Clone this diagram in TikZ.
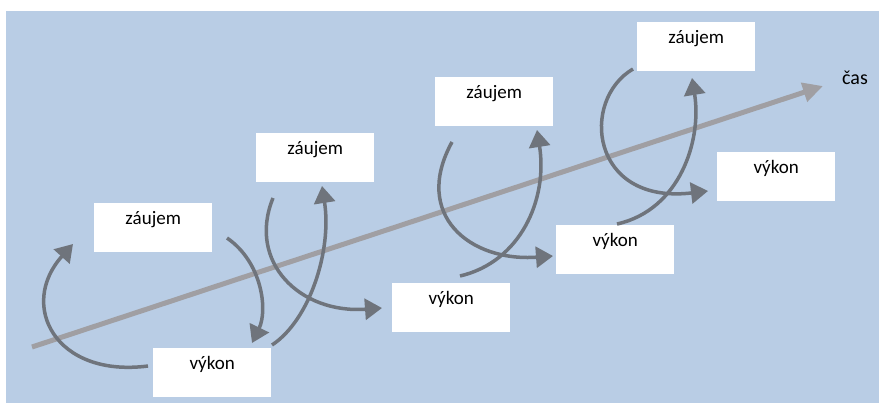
\documentclass[tikz,border=0pt]{standalone}
\usepackage{fontspec}
\setmainfont{Carlito}
\usetikzlibrary{arrows.meta}
\definecolor{paneblue}{RGB}{185,205,229}
\definecolor{loopgray}{RGB}{111,116,124}
\definecolor{axisgray}{RGB}{160,159,163}
\tikzset{
  stagebox/.style={fill=white, draw=none, anchor=north west, inner xsep=0pt, inner ysep=0pt,
    minimum width=118pt, minimum height=49pt, text height=21pt, text depth=28pt,
    font=\fontsize{19}{23}\selectfont},
  loop/.style={draw=loopgray, line width=3.5pt, -{Triangle[length=17pt,width=21pt]}},
  timeaxis/.style={draw=axisgray, line width=5pt, -{Triangle[length=20pt,width=19pt]}},
}
\begin{document}
\begin{tikzpicture}[x=1pt,y=-1pt]
  \useasboundingbox (0,0) rectangle (879,407);
  \fill[white] (0,0) rectangle (879,407);
  \fill[paneblue] (6,11) rectangle (879,403);

  % time axis
  \coordinate (t0) at (32,347);
  \coordinate (t1) at (823,86);
  \draw[timeaxis] (t0) -- (t1);
  \node[font=\fontsize{20}{24}\selectfont] (cas) at (855,78) {čas};

  % stage boxes
  \node[stagebox] (z1) at (94,203) {záujem};
  \node[stagebox] (v1) at (153,348) {výkon};
  \node[stagebox] (z2) at (256,133) {záujem};
  \node[stagebox] (v2) at (392,283) {výkon};
  \node[stagebox] (z3) at (435,77) {záujem};
  \node[stagebox] (v3) at (556,225) {výkon};
  \node[stagebox] (z4) at (637,22) {záujem};
  \node[stagebox] (v4) at (717,152) {výkon};

  % ends of the cycle arrows
  \coordinate (a1s) at (148,366);  \coordinate (a1e) at (73,244);
  \coordinate (a2s) at (227,238);  \coordinate (a2e) at (252,343);
  \coordinate (a3s) at (272,345);  \coordinate (a3e) at (322,186);
  \coordinate (a4s) at (273,198);  \coordinate (a4e) at (382,308);
  \coordinate (a5s) at (452,142);  \coordinate (a5e) at (553,256);
  \coordinate (a6s) at (460,276);  \coordinate (a6e) at (537,130);
  \coordinate (a7s) at (633,69);   \coordinate (a7e) at (708,191);
  \coordinate (a8s) at (617,224);  \coordinate (a8e) at (692,78);

  % cycle arrows
  \draw[loop] (a1s) .. controls (55,378) and (18,305) .. (a1e);
  \draw[loop] (a2s) .. controls (262,262) and (268,310) .. (a2e);
  \draw[loop] (a3s) .. controls (310,320) and (332,250) .. (a3e);
  \draw[loop] (a4s) .. controls (247,262) and (300,314) .. (a4e);
  \draw[loop] (a5s) .. controls (412,215) and (470,262) .. (a5e);
  \draw[loop] (a6s) .. controls (520,262) and (548,200) .. (a6e);
  \draw[loop] (a7s) .. controls (580,100) and (590,205) .. (a7e);
  \draw[loop] (a8s) .. controls (680,210) and (702,140) .. (a8e);
\end{tikzpicture}
\end{document}
